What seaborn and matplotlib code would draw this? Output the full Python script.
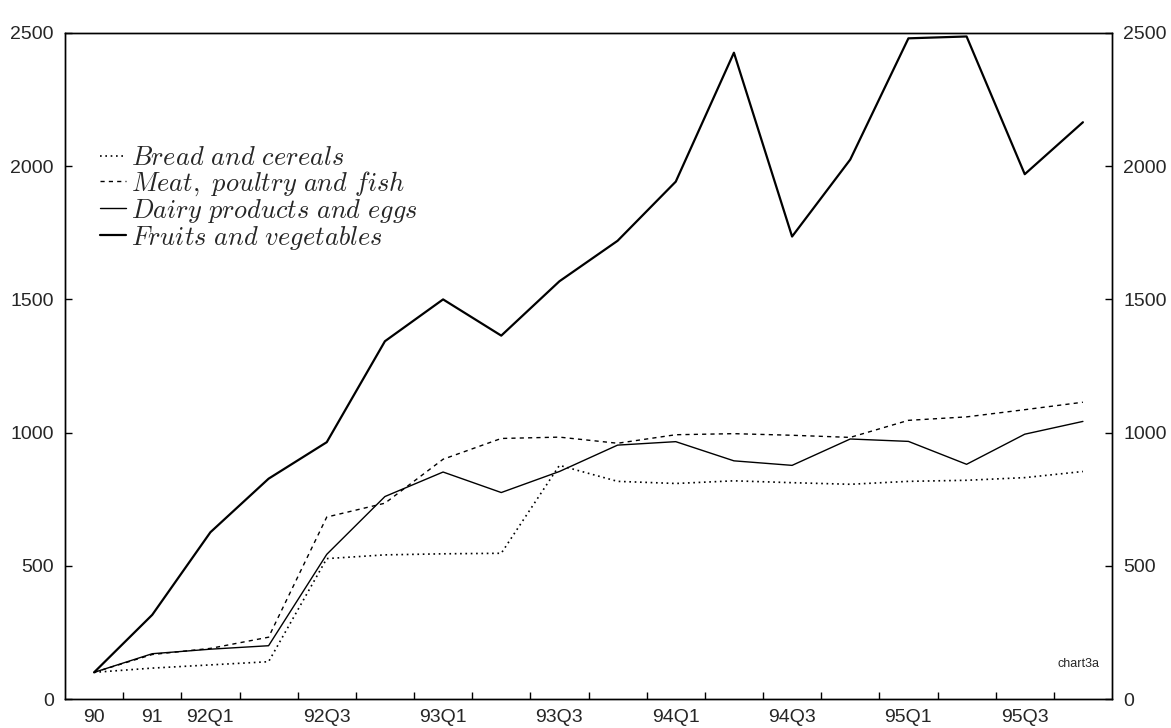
import numpy as np
import pandas as pd
import matplotlib
matplotlib.use("Agg")
import matplotlib.pyplot as plt
import seaborn as sns

# Food price index by period (1990 = 100)
periods = ["90", "91", "92Q1", "92Q2", "92Q3", "92Q4", "93Q1", "93Q2", "93Q3",
           "93Q4", "94Q1", "94Q2", "94Q3", "94Q4", "95Q1", "95Q2", "95Q3", "95Q4"]
bread = [100, 116, 128, 140, 527, 541, 545, 547, 877, 817, 809, 819, 812, 806, 817, 821, 831, 854]
meat = [100, 167, 190, 232, 683, 735, 900, 978, 983, 960, 992, 996, 990, 982, 1046, 1059, 1086, 1114]
dairy = [100, 170, 187, 200, 543, 760, 852, 775, 854, 953, 966, 894, 877, 976, 967, 881, 994, 1042]
fruits = [100, 316, 626, 827, 964, 1343, 1500, 1364, 1568, 1720, 1942, 2426, 1736, 2025, 2480, 2487, 1970, 2165]

series_names = ["Bread and cereals", "Meat, poultry and fish",
                "Dairy products and eggs", "Fruits and vegetables"]
tick_labels = ["90", "91", "92Q1", "92Q3", "93Q1", "93Q3", "94Q1", "94Q3", "95Q1", "95Q3"]
y_ticks = [0, 500, 1000, 1500, 2000, 2500]

pos = np.arange(len(periods))
df = pd.DataFrame({"pos": pos, "period": periods,
                   series_names[0]: bread, series_names[1]: meat,
                   series_names[2]: dairy, series_names[3]: fruits})

sns.set_style("white")
plt.rcParams["font.family"] = ["Liberation Sans", "DejaVu Sans"]
plt.rcParams["mathtext.fontset"] = "cm"

fig, ax = plt.subplots(figsize=(11.71, 7.28), dpi=100)
fig.subplots_adjust(left=65 / 1171, right=1112 / 1171, bottom=29 / 728, top=(728 - 33) / 728)

styles = {
    series_names[0]: dict(linestyle=(0, (1, 2.2)), linewidth=1.2),
    series_names[1]: dict(linestyle=(0, (3, 3)), linewidth=1.0),
    series_names[2]: dict(linestyle="-", linewidth=1.0),
    series_names[3]: dict(linestyle="-", linewidth=1.6),
}

def math_label(text):
    return r"$\mathit{" + text.replace(" ", r"\ ") + "}$"

for name in series_names:
    sns.lineplot(data=df, x="pos", y=name, ax=ax, color="black",
                 label=math_label(name), **styles[name])

ax.set_xlim(-0.5, len(periods) - 0.5)
ax.set_ylim(0, 2500)
ax.set_xlabel("")
ax.set_ylabel("")

label_pos = [periods.index(t) for t in tick_labels]
ax.set_xticks(label_pos)
ax.set_xticklabels(tick_labels, fontsize=14)
ax.set_xticks(np.arange(0.5, len(periods) - 1, 1), minor=True)
ax.tick_params(axis="x", which="major", length=0, pad=7)
ax.tick_params(axis="x", which="minor", direction="in", length=5, width=1,
               bottom=True, color="black")

ax.set_yticks(y_ticks)
ax.set_yticklabels([str(v) for v in y_ticks], fontsize=14)
ax.tick_params(axis="y", direction="in", length=5, width=1, left=True, pad=8,
               color="black")

ax2 = ax.twinx()
ax2.set_ylim(ax.get_ylim())
ax2.set_yticks(y_ticks)
ax2.set_yticklabels([str(v) for v in y_ticks], fontsize=14)
ax2.tick_params(axis="y", direction="in", length=5, width=1, right=True, pad=8,
                color="black")

for a in (ax, ax2):
    for sp in a.spines.values():
        sp.set_color("black")
        sp.set_linewidth(1.0)

leg = ax.legend(loc="upper left", bbox_to_anchor=(0.033, 0.83), frameon=False,
                prop={"size": 19}, handlelength=1.0, handletextpad=0.2,
                labelspacing=-0.04, borderpad=0, borderaxespad=0)

ax.text(0.9885, 0.053, "chart3a", transform=ax.transAxes, ha="right",
        va="center", fontsize=9)

fig.savefig("out.png", dpi=100)
